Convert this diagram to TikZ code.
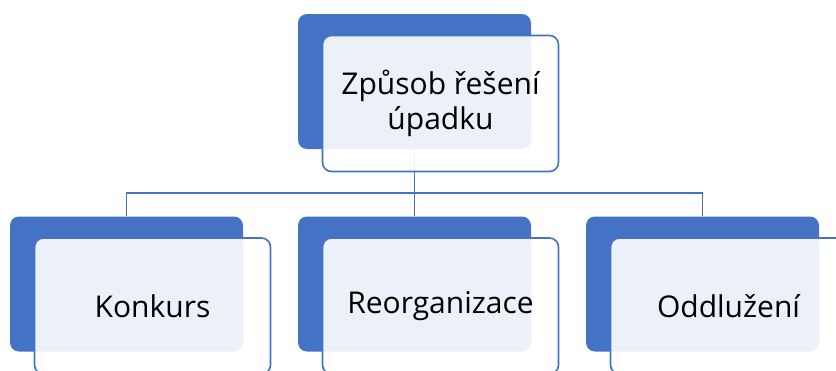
\documentclass[tikz,border=0pt]{standalone}
\usepackage{fontspec}
\setmainfont{Open Sans}
\definecolor{accent}{HTML}{4472C4}
\begin{document}
\begin{tikzpicture}[x=1pt, y=1pt,
    back/.style={fill=accent, rounded corners=9pt, minimum width=233pt,
      minimum height=135pt, inner sep=0pt},
    front/.style={draw=accent, line width=1.6pt, fill=white, fill opacity=0.9,
      text opacity=1, rounded corners=9pt, minimum width=236pt,
      minimum height=136pt, align=center, font=\fontsize{30}{35}\selectfont},
    level distance=202.5pt, sibling distance=288pt,
    edge from parent/.style={draw=accent, line width=1.8pt},
    edge from parent path={(\tikzparentnode.south) -- ++(0,-44)
      -| (\tikzchildnode.north)}]
  \clip (0,0) rectangle (836,-370);
  \node[back] (zpusob) at (414.5,-81.5) {}
    child {node[back] (konkurs) {}}
    child {node[back] (reorg) {}}
    child {node[back] (oddluzeni) {}};
  \node[front] (zpusobF) at ([shift={(26,-22)}]zpusob) {Způsob řešení\\úpadku};
  \node[front] (konkursF) at ([shift={(26,-22)}]konkurs) {Konkurs};
  \node[front] (reorgF) at ([shift={(26,-22)}]reorg) {Reorganizace};
  \node[front] (oddluzeniF) at ([shift={(26,-22)}]oddluzeni) {Oddlužení};
\end{tikzpicture}
\end{document}
